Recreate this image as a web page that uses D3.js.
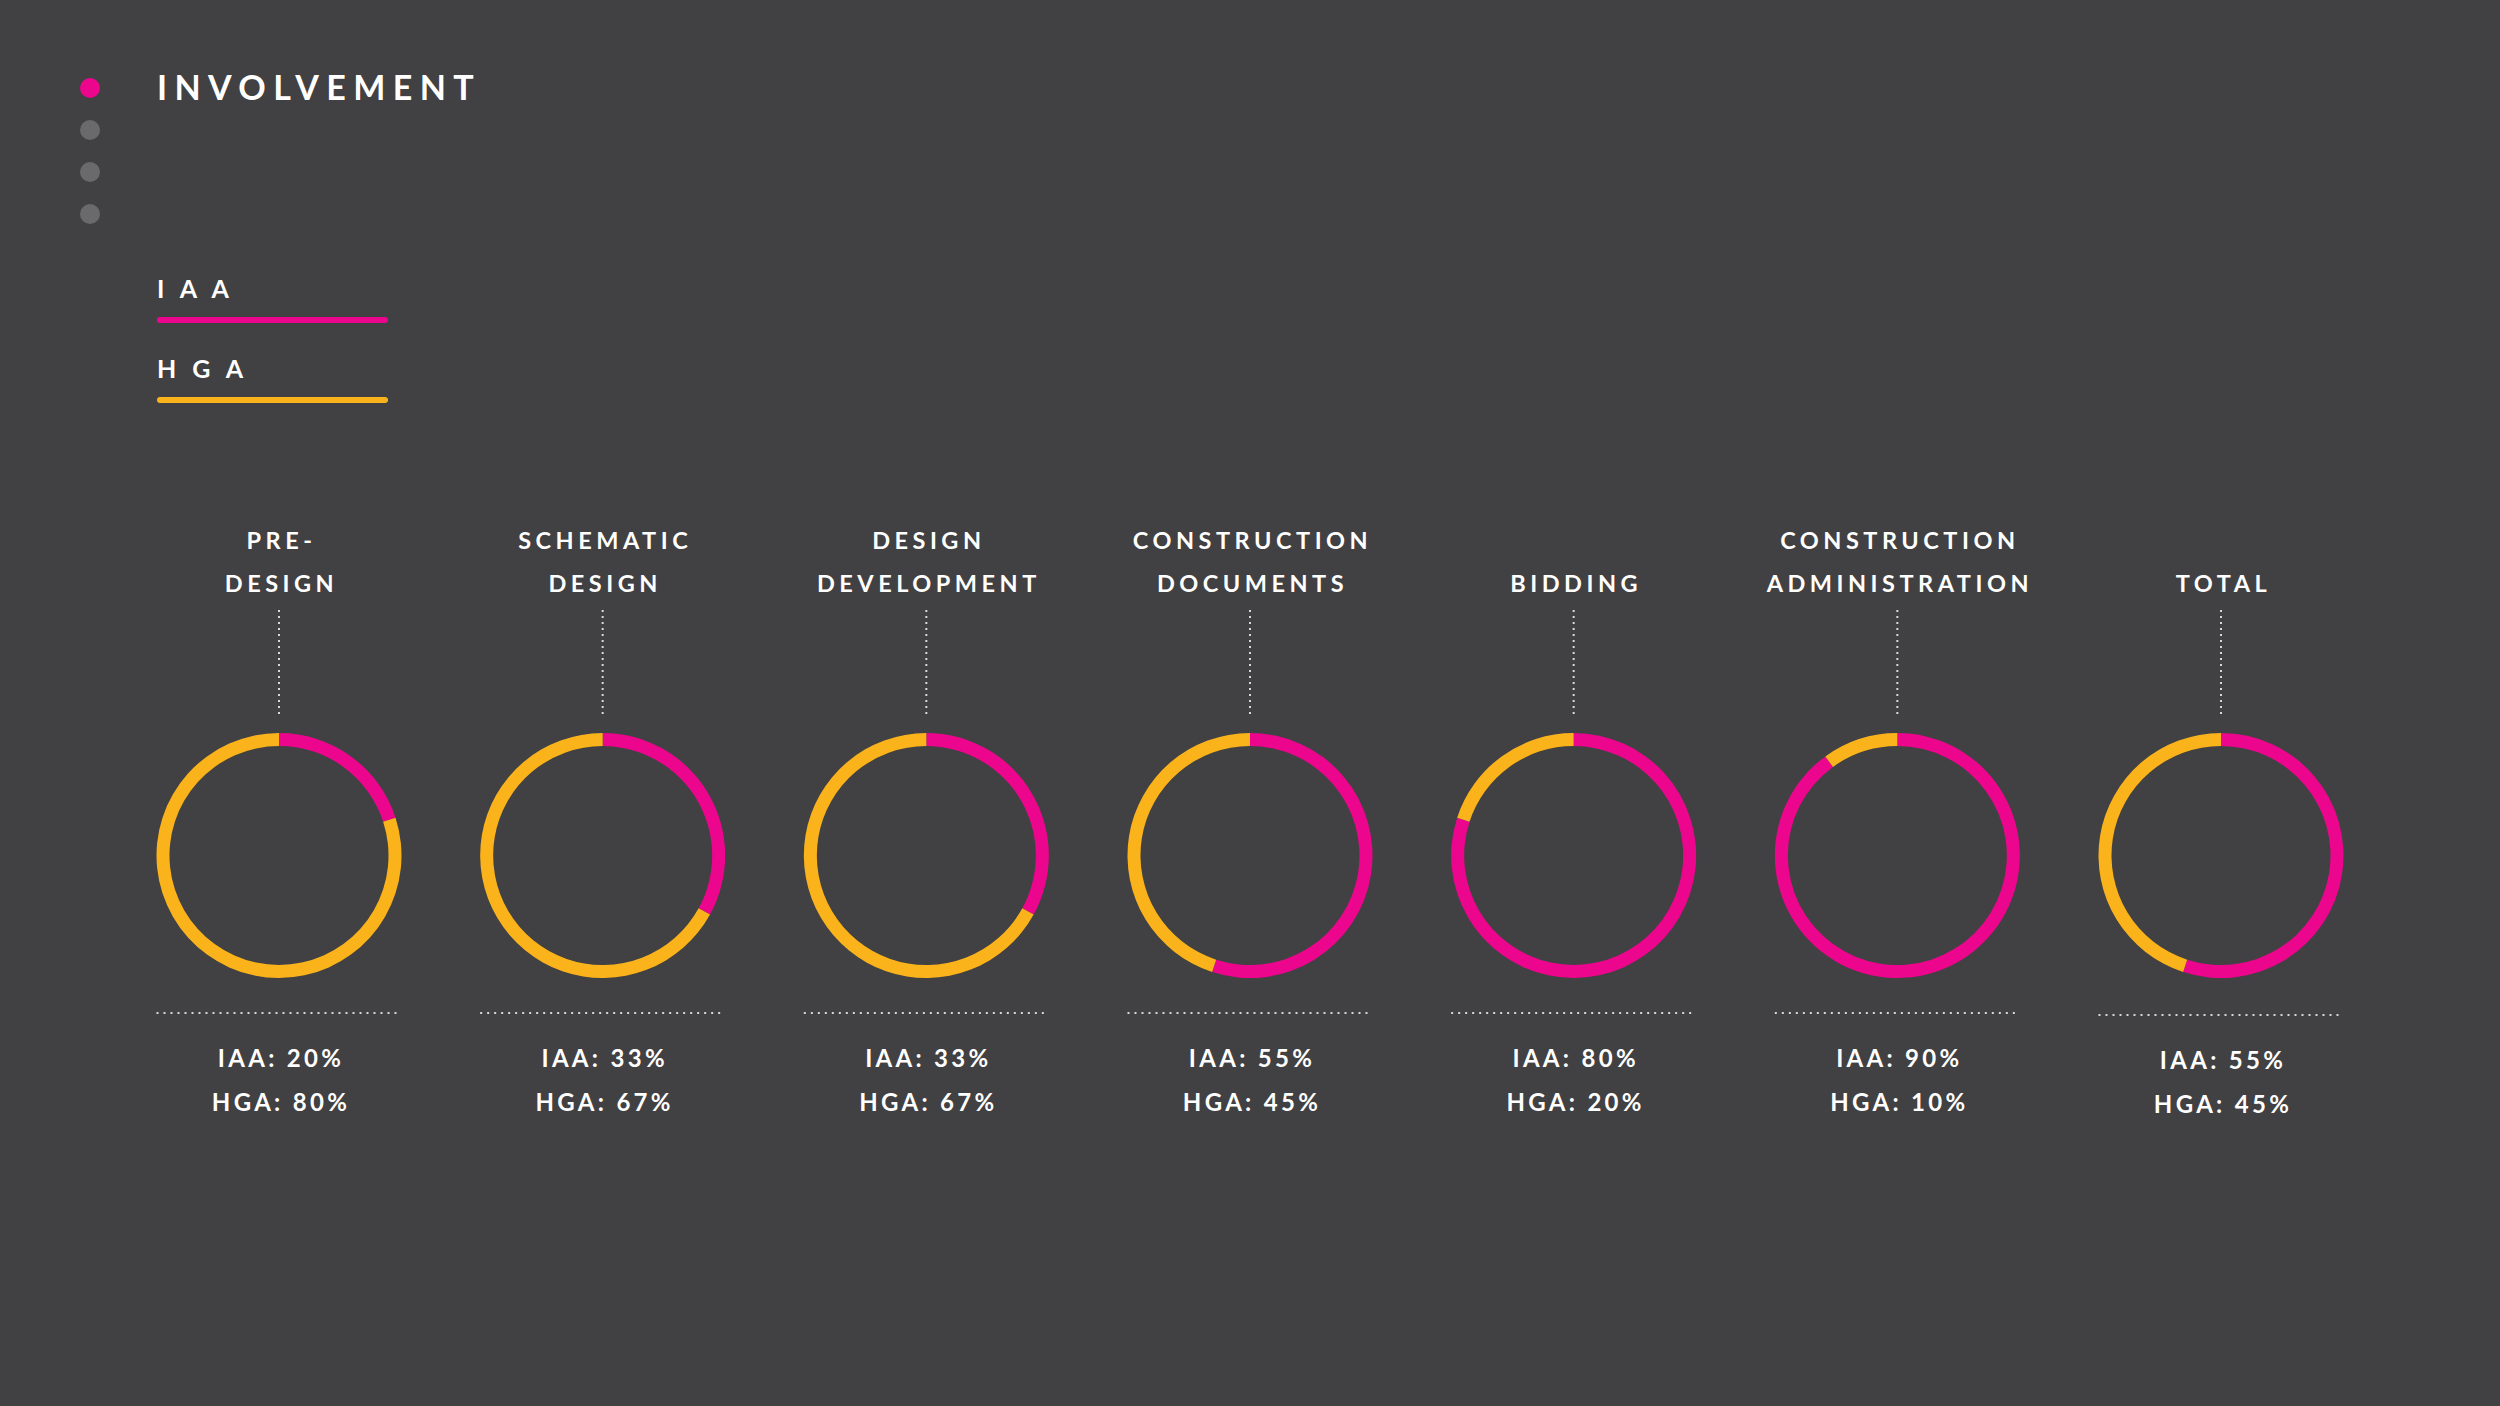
<!DOCTYPE html>
<html><head><meta charset="utf-8">
<script src="https://cdn.jsdelivr.net/npm/d3@7"></script>
<style>
html,body{margin:0;padding:0;background:#414042;}
svg{display:block;}
text{font-family:"Lato",sans-serif;fill:#ffffff;}
</style></head>
<body>
<script>
const categories = [["PRE-","DESIGN"],["SCHEMATIC","DESIGN"],["DESIGN","DEVELOPMENT"],["CONSTRUCTION","DOCUMENTS"],["BIDDING"],["CONSTRUCTION","ADMINISTRATION"],["TOTAL"]];
const iaaValues = [20,33,33,55,80,90,55];
const hgaValues = [80,67,67,45,20,10,45];
const seriesNames = ["IAA","HGA"];
const colors = ["#ec068d","#fbb31b"];
const title = "INVOLVEMENT";

const W = 2500, H = 1406;
const svg = d3.select("body").append("svg").attr("width",W).attr("height",H);
svg.append("rect").attr("width",W).attr("height",H).attr("fill","#414042");

// nav dots
const navDots = [0,1,2,3];
svg.selectAll("circle.nav").data(navDots).join("circle")
  .attr("cx",90).attr("cy",d=>88+d*42).attr("r",10)
  .attr("fill",d=>d===0?colors[0]:"#6a696b");

svg.append("text").attr("x",157).attr("y",100).text(title)
  .style("font-size","34px").style("font-weight","700").style("letter-spacing","7.4px");

// legend
seriesNames.forEach((s,i)=>{
  svg.append("text").attr("x",157).attr("y",298+i*80).text(s.split("").join(" "))
    .style("font-size","25px").style("font-weight","700").style("letter-spacing","5px");
  svg.append("line").attr("x1",160).attr("x2",385).attr("y1",320+i*80).attr("y2",320+i*80)
    .attr("stroke",colors[i]).attr("stroke-width",6).attr("stroke-linecap","round");
});

const x = d3.scalePoint().domain(d3.range(categories.length)).range([279,2221]);
const cy = 855.5, rOuter = 122.5, rInner = 109.5;
const pie = d3.pie().sort(null).value(d=>d);
const arc = d3.arc().innerRadius(rInner).outerRadius(rOuter);

categories.forEach((lines,i)=>{
  const g = svg.append("g").attr("transform",`translate(${x(i)},0)`);
  const offset = 2 - lines.length;
  lines.forEach((ln,j)=>{
    g.append("text").attr("x",2.5).attr("y",549+(j+offset)*43).attr("text-anchor","middle").text(ln)
      .style("font-size","23.5px").style("font-weight","700").style("letter-spacing","4.5px");
  });
  g.append("line").attr("x1",0).attr("x2",0).attr("y1",610).attr("y2",717)
    .attr("stroke","#d8d8d8").attr("stroke-width",2).attr("stroke-dasharray","2,4");
  const arcs = pie([iaaValues[i],hgaValues[i]]);
  g.append("g").attr("transform",`translate(0,${cy})`).selectAll("path").data(arcs).join("path")
    .attr("d",arc).attr("fill",(d,k)=>colors[k]);
  const extra = i===categories.length-1 ? 2 : 0;
  g.append("line").attr("x1",-rOuter).attr("x2",rOuter).attr("y1",1013+extra).attr("y2",1013+extra)
    .attr("stroke","#d8d8d8").attr("stroke-width",2).attr("stroke-dasharray","2,5");
  [iaaValues[i],hgaValues[i]].forEach((v,k)=>{
    g.append("text").attr("x",2).attr("y",1067+k*44+extra).attr("text-anchor","middle")
      .text(`${seriesNames[k]}: ${v}%`)
      .style("font-size","24px").style("font-weight","700").style("letter-spacing","3.3px");
  });
});
</script>
</body></html>
